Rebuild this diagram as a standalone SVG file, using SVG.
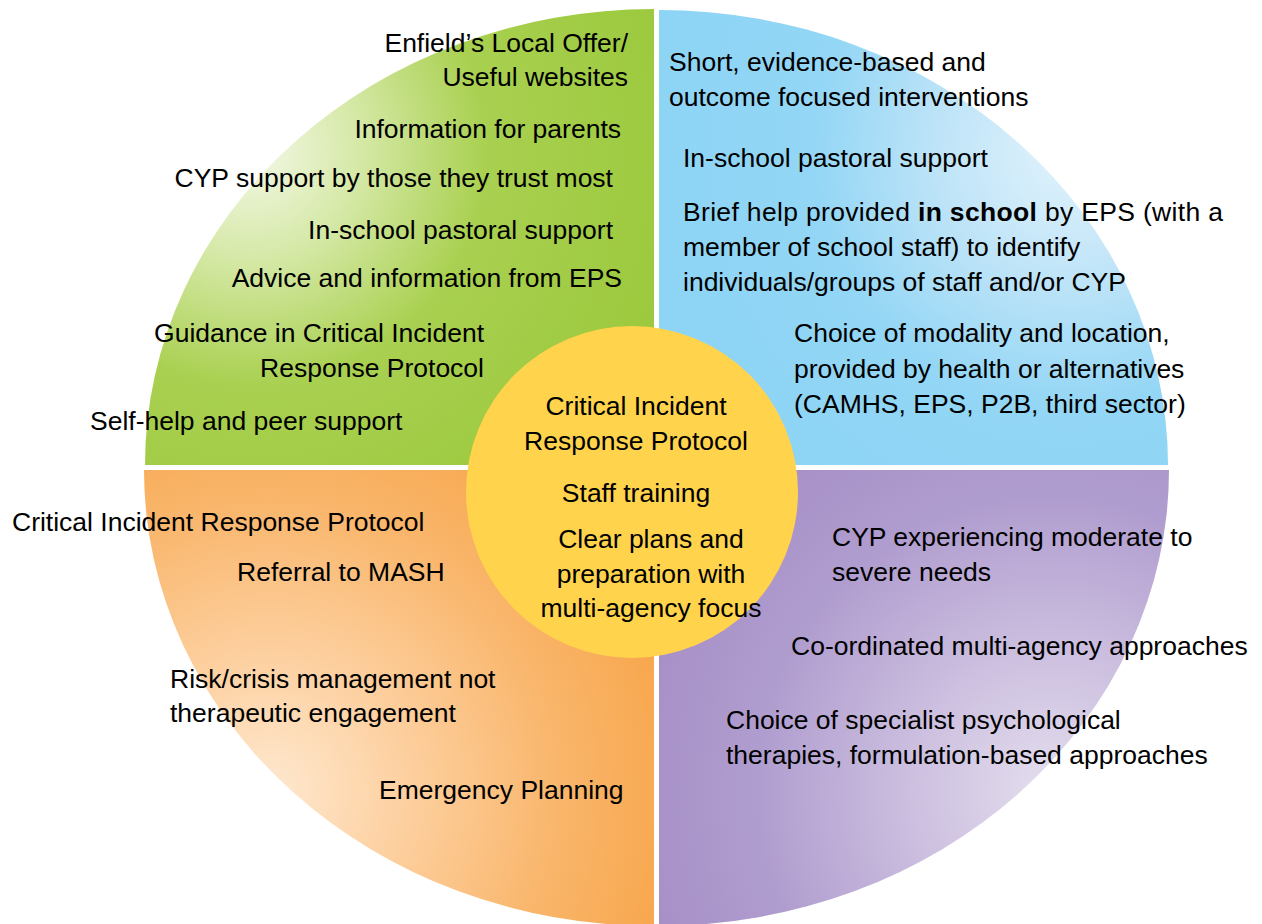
<svg xmlns="http://www.w3.org/2000/svg" width="1262" height="924" viewBox="0 0 1262 924">
  <style>
    .t { font-family: "Liberation Sans", Arial, sans-serif; font-size: 26.5px; fill: #000; }
    .e { text-anchor: end; }
    .m { text-anchor: middle; }
    .b { font-weight: bold; }
  </style>
  <defs>
    <radialGradient id="gGreen" gradientUnits="userSpaceOnUse" cx="250" cy="150" r="430">
      <stop offset="0" stop-color="#f4f8e8"/>
      <stop offset="0.25" stop-color="#d6e9a8"/>
      <stop offset="0.55" stop-color="#a9d050"/>
      <stop offset="1" stop-color="#9cc93e"/>
    </radialGradient>
    <radialGradient id="gBlue" gradientUnits="userSpaceOnUse" cx="1070" cy="150" r="430">
      <stop offset="0" stop-color="#e2f3fc"/>
      <stop offset="0.3" stop-color="#bfe4f8"/>
      <stop offset="0.6" stop-color="#93d6f5"/>
      <stop offset="1" stop-color="#8dd4f5"/>
    </radialGradient>
    <radialGradient id="gOrange" gradientUnits="userSpaceOnUse" cx="270" cy="790" r="450">
      <stop offset="0" stop-color="#fee8cf"/>
      <stop offset="0.3" stop-color="#fdd0a0"/>
      <stop offset="0.65" stop-color="#f9b56a"/>
      <stop offset="1" stop-color="#f7a243"/>
    </radialGradient>
    <radialGradient id="gPurple" gradientUnits="userSpaceOnUse" cx="1050" cy="790" r="450">
      <stop offset="0" stop-color="#e4deee"/>
      <stop offset="0.3" stop-color="#cdc0e0"/>
      <stop offset="0.65" stop-color="#b09dcf"/>
      <stop offset="1" stop-color="#a48cc4"/>
    </radialGradient>
  </defs>

  <rect x="0" y="0" width="1262" height="924" fill="#ffffff"/>

  <g id="quadrant-universal">
    <path d="M654,465 L145,465 A509,456 0 0 1 654,9 Z" fill="url(#gGreen)"/>
  </g>
  <g id="quadrant-targeted">
    <path d="M659,465 L659,10 A509,455 0 0 1 1168,465 Z" fill="url(#gBlue)"/>
  </g>
  <g id="quadrant-crisis">
    <path d="M654,470 L654,926 A510,456 0 0 1 144,470 Z" fill="url(#gOrange)"/>
  </g>
  <g id="quadrant-specialist">
    <path d="M659,470 L1169,470 A510,456 0 0 1 659,926 Z" fill="url(#gPurple)"/>
  </g>
  <g id="centre">
    <circle cx="632" cy="492" r="166" fill="#ffd34c"/>
  </g>

  <g id="text-universal">
    <text class="t e" x="628" y="52">Enfield’s Local Offer/</text>
    <text class="t e" x="628" y="86">Useful websites</text>
    <text class="t e" x="621" y="138">Information for parents</text>
    <text class="t e" x="613" y="187">CYP support by those they trust most</text>
    <text class="t e" x="613" y="239">In-school pastoral support</text>
    <text class="t e" x="622" y="287">Advice and information from EPS</text>
    <text class="t e" x="484" y="342">Guidance in Critical Incident</text>
    <text class="t e" x="484" y="377">Response Protocol</text>
    <text class="t" x="90" y="430">Self-help and peer support</text>
  </g>

  <g id="text-targeted">
    <text class="t" x="669" y="71">Short, evidence-based and</text>
    <text class="t" x="669" y="106">outcome focused interventions</text>
    <text class="t" x="683" y="167">In-school pastoral support</text>
    <text class="t" x="683" y="221" textLength="540" lengthAdjust="spacing">Brief help provided <tspan class="b">in school</tspan> by EPS (with a</text>
    <text class="t" x="683" y="256">member of school staff) to identify</text>
    <text class="t" x="683" y="291">individuals/groups of staff and/or CYP</text>
    <text class="t" x="794" y="342">Choice of modality and location,</text>
    <text class="t" x="794" y="378">provided by health or alternatives</text>
    <text class="t" x="794" y="413">(CAMHS, EPS, P2B, third sector)</text>
  </g>

  <g id="text-centre">
    <text class="t m" x="636" y="415">Critical Incident</text>
    <text class="t m" x="636" y="450">Response Protocol</text>
    <text class="t m" x="636" y="502">Staff training</text>
    <text class="t m" x="651" y="548">Clear plans and</text>
    <text class="t m" x="651" y="583">preparation with</text>
    <text class="t m" x="651" y="617">multi-agency focus</text>
  </g>

  <g id="text-crisis">
    <text class="t" x="12" y="531">Critical Incident Response Protocol</text>
    <text class="t" x="237" y="581">Referral to MASH</text>
    <text class="t" x="170" y="688">Risk/crisis management not</text>
    <text class="t" x="170" y="722">therapeutic engagement</text>
    <text class="t" x="379" y="799">Emergency Planning</text>
  </g>

  <g id="text-specialist">
    <text class="t" x="832" y="546">CYP experiencing moderate to</text>
    <text class="t" x="832" y="581">severe needs</text>
    <text class="t" x="791" y="655">Co-ordinated multi-agency approaches</text>
    <text class="t" x="726" y="729">Choice of specialist psychological</text>
    <text class="t" x="726" y="764">therapies, formulation-based approaches</text>
  </g>
</svg>
